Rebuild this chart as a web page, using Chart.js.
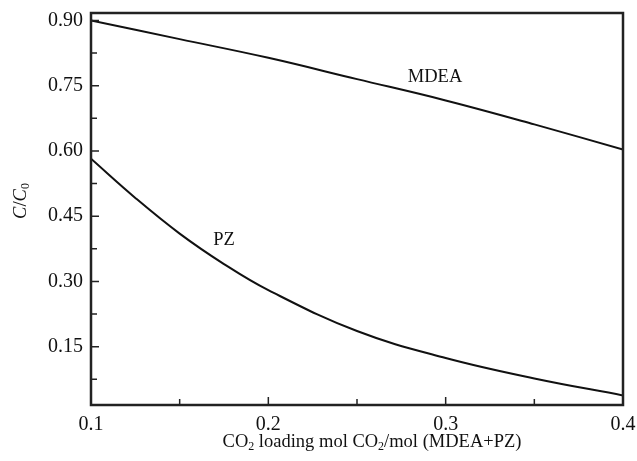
<!DOCTYPE html>
<html>
<head>
<meta charset="utf-8">
<script src="https://cdn.jsdelivr.net/npm/chart.js@4.4.1/dist/chart.umd.min.js"></script>
<style>
  html, body { margin: 0; padding: 0; background: #fff; }
  #wrap { width: 637px; height: 461px; }
</style>
</head>
<body>
<div id="wrap"><canvas id="absChart"></canvas></div>
<script>
// CO2 loading (mol CO2 / mol amine) and relative concentration C/C0
const mdeaLoading = [0.10, 0.15, 0.20, 0.25, 0.30, 0.35, 0.40];
const mdeaRatio = [0.900, 0.857, 0.814, 0.765, 0.716, 0.661, 0.603];
const pzLoading = [0.10, 0.125, 0.15, 0.175, 0.20, 0.25, 0.30, 0.35, 0.40];
const pzRatio = [0.582, 0.492, 0.410, 0.340, 0.280, 0.186, 0.124, 0.077, 0.038];

const xMajor = [0.1, 0.2, 0.3, 0.4];
const xMinor = [0.15, 0.25, 0.35];
const yMajor = [0.15, 0.30, 0.45, 0.60, 0.75, 0.90];
const yMinor = [0.075, 0.225, 0.375, 0.525, 0.675, 0.825];

// curve names and where they sit (data units)
const curveLabels = [
    { text: 'MDEA', x: 0.294, y: 0.770 },
    { text: 'PZ', x: 0.175, y: 0.395 }
];

const SERIF = '"Liberation Serif", "Times New Roman", serif';
const INK = '#111';
const TITLE_SIZE = 18.5;

function toPoints(xs, ys) {
    return xs.map((x, i) => ({ x: x, y: ys[i] }));
}

// draw text with a subscript part, returns width
function subText(ctx, parts, x, y, size) {
    let cx = x;
    for (const p of parts) {
        const fs = p.sub ? Math.round(size * 0.65) : size;
        ctx.font = (p.italic ? 'italic ' : '') + fs + 'px ' + SERIF;
        ctx.fillText(p.t, cx, p.sub ? y + size * 0.28 : y);
        cx += ctx.measureText(p.t).width;
    }
    return cx - x;
}

function measureParts(ctx, parts, size) {
    let w = 0;
    for (const p of parts) {
        const fs = p.sub ? Math.round(size * 0.65) : size;
        ctx.font = (p.italic ? 'italic ' : '') + fs + 'px ' + SERIF;
        w += ctx.measureText(p.t).width;
    }
    return w;
}

// fixed plot box
const boxPlugin = {
    id: 'box',
    afterLayout(chart) {
        const a = chart.chartArea;
        a.left = 91; a.right = 623; a.top = 13; a.bottom = 405;
        a.width = a.right - a.left; a.height = a.bottom - a.top;
        const xs = chart.scales.x, ys = chart.scales.y;
        xs.left = a.left; xs.right = a.right; xs.width = a.width;
        xs.top = a.bottom; xs.bottom = chart.height;
        ys.top = a.top; ys.bottom = a.bottom; ys.height = a.height;
        ys.left = 0; ys.right = a.left;
        xs.configure(); ys.configure();
    }
};

// frame, inward ticks, axis titles, curve names
const framePlugin = {
    id: 'frame',
    afterDraw(chart) {
        const ctx = chart.ctx;
        const a = chart.chartArea;
        const xs = chart.scales.x;
        const ys = chart.scales.y;
        ctx.save();
        ctx.strokeStyle = '#222';
        ctx.lineWidth = 2.5;
        ctx.strokeRect(a.left, a.top, a.right - a.left, a.bottom - a.top);

        ctx.lineWidth = 1.5;
        ctx.beginPath();
        for (const v of xMajor) {
            const px = xs.getPixelForValue(v);
            ctx.moveTo(px, a.bottom); ctx.lineTo(px, a.bottom - 8);
        }
        for (const v of xMinor) {
            const px = xs.getPixelForValue(v);
            ctx.moveTo(px, a.bottom); ctx.lineTo(px, a.bottom - 6);
        }
        for (const v of yMajor) {
            const py = ys.getPixelForValue(v);
            ctx.moveTo(a.left, py); ctx.lineTo(a.left + 8, py);
        }
        for (const v of yMinor) {
            const py = ys.getPixelForValue(v);
            ctx.moveTo(a.left, py); ctx.lineTo(a.left + 6, py);
        }
        ctx.stroke();

        ctx.fillStyle = INK;
        ctx.textBaseline = 'middle';
        ctx.textAlign = 'left';

        // x title
        const xt = [
            { t: 'CO' }, { t: '2', sub: true }, { t: ' loading mol CO' },
            { t: '2', sub: true }, { t: '/mol (MDEA+PZ)' }
        ];
        const xw = measureParts(ctx, xt, TITLE_SIZE);
        subText(ctx, xt, 372 - xw / 2, 442, TITLE_SIZE);

        // y title, rotated
        const yt = [{ t: 'C', italic: true }, { t: '/' }, { t: 'C', italic: true }, { t: '0', sub: true }];
        const yw = measureParts(ctx, yt, TITLE_SIZE);
        ctx.save();
        ctx.translate(21, 201);
        ctx.rotate(-Math.PI / 2);
        subText(ctx, yt, -yw / 2, 0, TITLE_SIZE);
        ctx.restore();

        ctx.textAlign = 'center';
        ctx.font = TITLE_SIZE + 'px ' + SERIF;
        for (const l of curveLabels) {
            ctx.fillText(l.text, xs.getPixelForValue(l.x), ys.getPixelForValue(l.y));
        }
        ctx.restore();
    }
};

const lineStyle = {
    borderColor: INK,
    borderWidth: 2,
    pointRadius: 0,
    fill: false,
    tension: 0.4
};

new Chart(document.getElementById('absChart'), {
    type: 'line',
    data: {
        datasets: [
            Object.assign({ label: 'MDEA', data: toPoints(mdeaLoading, mdeaRatio) }, lineStyle),
            Object.assign({ label: 'PZ', data: toPoints(pzLoading, pzRatio) }, lineStyle)
        ]
    },
    options: {
        responsive: true,
        maintainAspectRatio: false,
        animation: false,
        layout: { padding: { left: 0, top: 13, right: 14, bottom: 0 } },
        plugins: {
            legend: { display: false },
            tooltip: { enabled: false }
        },
        scales: {
            x: {
                type: 'linear',
                min: 0.1,
                max: 0.4,
                afterBuildTicks: (scale) => { scale.ticks = xMajor.map(v => ({ value: v })); },
                afterFit: (scale) => { scale.height = 56; },
                grid: { display: false, drawTicks: false },
                border: { display: false },
                ticks: {
                    color: INK,
                    padding: 8,
                    maxRotation: 0,
                    font: { family: SERIF, size: 20 },
                    callback: (v) => v.toFixed(1)
                }
            },
            y: {
                type: 'linear',
                min: 0.016,
                max: 0.917,
                afterBuildTicks: (scale) => { scale.ticks = yMajor.map(v => ({ value: v })); },
                afterFit: (scale) => { scale.width = 91; },
                grid: { display: false, drawTicks: false },
                border: { display: false },
                ticks: {
                    color: INK,
                    padding: 8,
                    font: { family: SERIF, size: 20 },
                    callback: (v) => v.toFixed(2)
                }
            }
        }
    },
    plugins: [boxPlugin, framePlugin]
});
</script>
</body>
</html>
